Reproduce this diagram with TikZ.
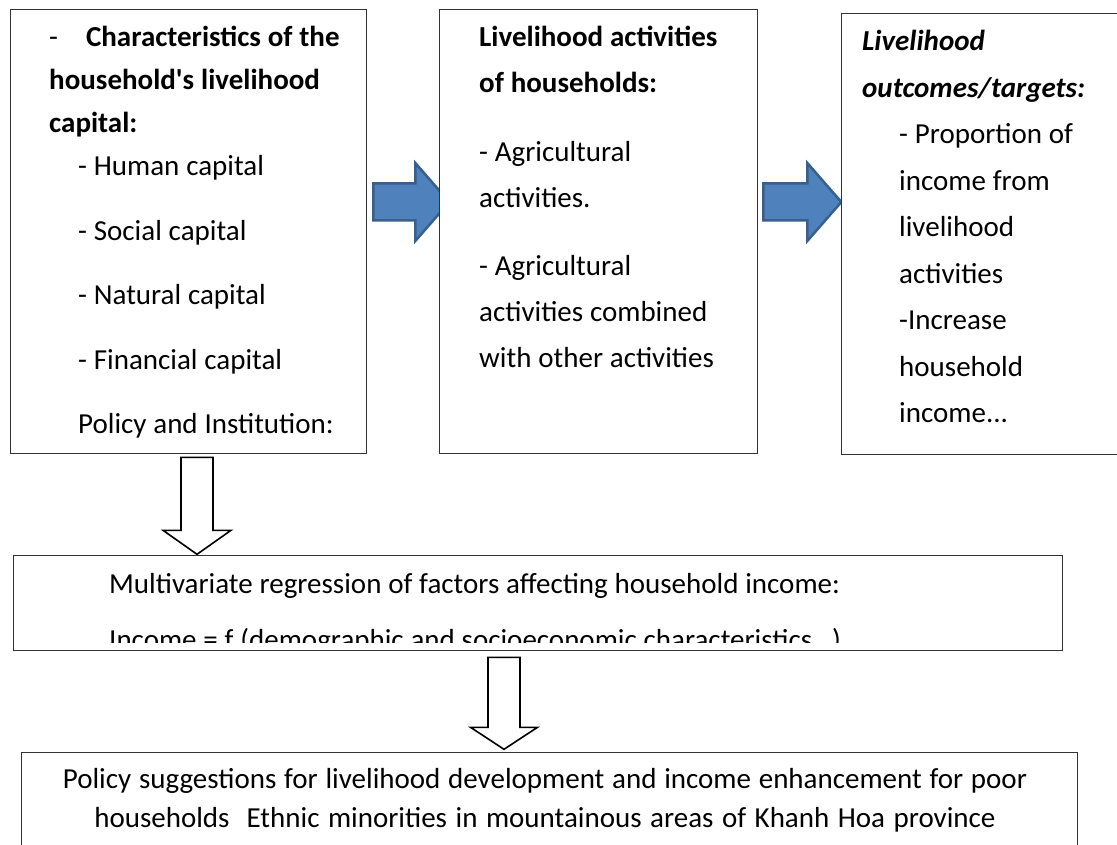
\documentclass[tikz,border=0pt]{standalone}
\usepackage{fontspec}
\setmainfont{Carlito}
\usetikzlibrary{calc, positioning, backgrounds}
\definecolor{arrowfill}{HTML}{4F81BD}
\definecolor{arrowedge}{HTML}{3A5F8B}
\newcommand{\tightsp}{\spaceskip=0.235em plus 0.05em\relax}

\begin{document}
\begin{tikzpicture}[x=1pt, y=-1pt,
    box/.style={rectangle, draw=black!80, line width=1.3pt, fill=white, anchor=north west, inner sep=0pt},
    txt/.style={anchor=base west, inner sep=0pt, align=left, text width=#1},
    txt/.default=320pt,
    bluearrow/.style={draw=arrowedge, fill=arrowfill, line width=2.5pt, line join=miter},
    hollowarrow/.style={draw=black, fill=white, line width=1.6pt, line join=miter}]
    \useasboundingbox (0,0) rectangle (1117,845);
    \clip (0,0) rectangle (1117,845);
    % boxes
    \node[box, minimum width=356pt, minimum height=444pt] (cap) at (10,9) {};
    \node[box, minimum width=318pt, minimum height=444pt] (act) at (439,9) {};
    \node[box, minimum width=300pt, minimum height=441pt] (out) at (841,13) {};
    \node[box, minimum width=1049pt, minimum height=95pt] (reg) at (13,555) {};
    \node[box, minimum width=1056pt, minimum height=120pt] (pol) at (21,752) {};
    % texts
    \node[txt, font=\fontsize{29}{43}\selectfont] (capT) at ($(cap.north west)+(39,38)$) {\tightsp
        -\hspace{28pt}\textbf{Characteristics of the}\\
        \textbf{household\textquotesingle s livelihood}\\
        \textbf{capital:}\\
        \hspace*{29pt}- Human capital\\[21.5pt]
        \hspace*{29pt}- Social capital\\[21.5pt]
        \hspace*{29pt}- Natural capital\\[21.5pt]
        \hspace*{29pt}- Financial capital\\[21.5pt]
        \hspace*{29pt}Policy and Institution:};
    \node[txt, font=\fontsize{29}{46}\selectfont] (actT) at ($(act.north west)+(40,38)$) {\tightsp
        \textbf{Livelihood activities}\\
        \textbf{of households:}\\[23pt]
        - Agricultural\\
        activities.\\[22pt]
        - Agricultural\\
        activities combined\\
        with other activities};
    \node[txt, font=\fontsize{29}{46.5}\selectfont] (outT) at ($(out.north west)+(21,38)$) {\tightsp
        \textbf{\textit{Livelihood}}\\
        \textbf{\textit{outcomes/targets:}}\\
        \hspace*{37pt}- Proportion of\\
        \hspace*{37pt}income from\\
        \hspace*{37pt}livelihood\\
        \hspace*{37pt}activities\\
        \hspace*{37pt}-Increase\\
        \hspace*{37pt}household\\
        \hspace*{37pt}income...};
    \begin{scope}
        \clip (reg.north west) rectangle ($(reg.south east)+(0,-9)$);
        \node[txt=1000pt, font=\fontsize{29}{43}\selectfont] (regT) at ($(reg.north west)+(96,38)$) {\tightsp
            Multivariate regression of factors affecting household income:\\[13pt]
            Income = f (demographic and socioeconomic characteristics…)};
    \end{scope}
    \node[txt=1040pt, anchor=base, align=center, font=\fontsize{29}{39}\selectfont] (polT) at ($(pol.north west)+(524,36)$) {\tightsp
        Policy suggestions for livelihood development and income enhancement for poor\\
        households\ \ Ethnic minorities in mountainous areas of Khanh Hoa province};
    % arrows
    \begin{scope}[on background layer]
        \draw[bluearrow] ($(cap.north east)+(6,174.5)$) -- ++(42,0) -- ++(0,-20.5) -- ++(34,39)
            -- ++(-34,39) -- ++(0,-20.5) -- ++(-42,0) -- cycle;
        \draw[bluearrow] ($(act.north east)+(5,174.5)$) -- ++(44,0) -- ++(0,-20.5) -- ++(34,39)
            -- ++(-34,39) -- ++(0,-20.5) -- ++(-44,0) -- cycle;
    \end{scope}
    \draw[hollowarrow] ($(cap.south west)+(171,3)$) -- ++(32,0) -- ++(0,73) -- ++(18,0)
        -- ++(-34,24) -- ++(-34,-24) -- ++(18,0) -- cycle;
    \draw[hollowarrow] ($(reg.south west)+(475,6)$) -- ++(32,0) -- ++(0,70) -- ++(17.5,0)
        -- ++(-33.5,22) -- ++(-33.5,-22) -- ++(17.5,0) -- cycle;
\end{tikzpicture}
\end{document}
